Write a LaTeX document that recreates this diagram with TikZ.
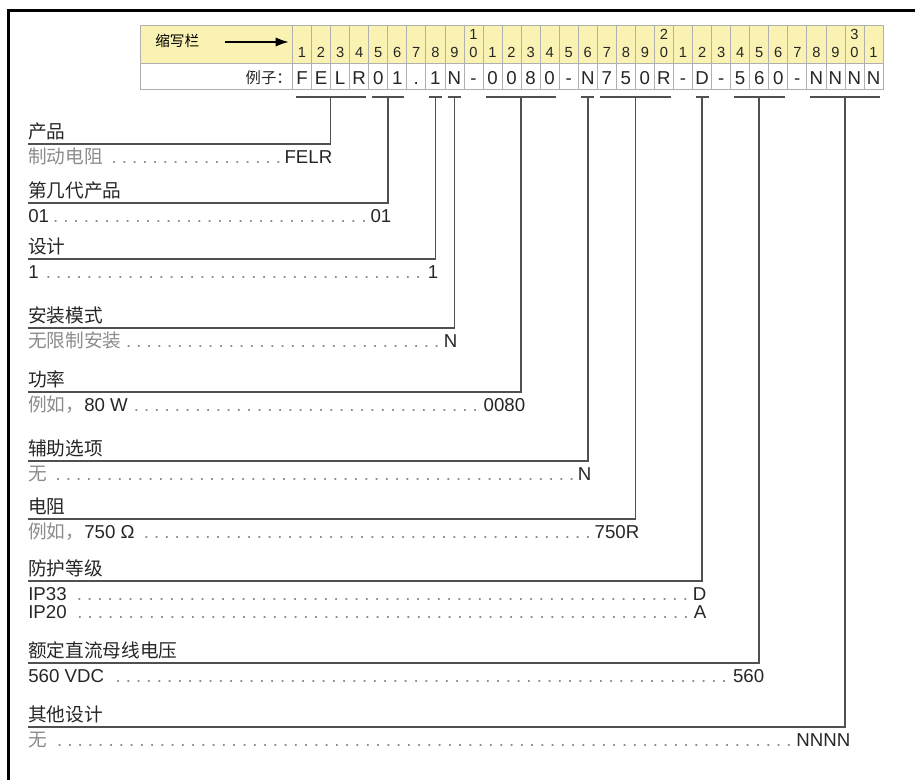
\documentclass[tikz,border=0pt]{standalone}
\usepackage{fontspec}
\setmainfont{Liberation Sans}
\newfontfamily\cjk{Noto Sans CJK SC}
\usetikzlibrary{arrows.meta}

\definecolor{codeyellow}{HTML}{F9F2B2}
\definecolor{cellgray}{HTML}{B0B0B0}
\definecolor{leadgray}{HTML}{505050}
\definecolor{textdark}{HTML}{262626}
\definecolor{textgray}{HTML}{8C8C8C}

% dotted leader and one value row, #1 = right end in px
\newcommand\leaderdots{{\color{textgray}\leavevmode\cleaders\hbox to 0.55em{\hss.\hss}\hfill}}
\newcommand\valline[3]{\hbox to \dimexpr(#1pt-28pt)*3/4\relax{#2\leaderdots#3}}
\newcommand\gr[1]{{\cjk\color{textgray}#1}}

\begin{document}
\begin{tikzpicture}[x=0.75pt,y=-0.75pt,
  title/.style={anchor=base west, inner sep=0pt, font=\cjk\fontsize{14}{16}\selectfont, text=textdark},
  value/.style={anchor=base west, inner sep=0pt, font=\fontsize{14}{16}\selectfont, text=textdark},
  digit/.style={anchor=base, inner sep=0pt, font=\fontsize{11}{12}\selectfont, text=textdark},
  letter/.style={anchor=base, inner sep=0pt, font=\fontsize{14}{15}\selectfont, text=textdark},
  lead/.style={draw=leadgray, line width=1.3pt},
  cell/.style={draw=cellgray, line width=0.6pt}]
\useasboundingbox (0,0) rectangle (915,780);

% frame
\draw[line width=2pt, line join=miter] (8.5,780) -- (8.5,10.5) -- (915,10.5);

% code table
\fill[codeyellow] (140,25) rectangle (883,63);
\draw[cell] (140,25) rectangle (883,89) (140,63) -- (883,63);
\foreach \i in {0,...,30}
  \draw[cell] ({292.5+\i*19.05},25) -- ({292.5+\i*19.05},89);

\node[anchor=base west, inner sep=0pt, font=\cjk\fontsize{11}{13}\selectfont] (abbr) at (155,46.5) {缩写栏};
\coordinate (arrtail) at (225,42);
\coordinate (arrhead) at (289,42);
\draw[line width=1.6pt, -{Latex[length=10pt,width=7pt]}] (arrtail) -- (arrhead);
\node[anchor=base east, inner sep=0pt, font=\cjk\fontsize{11.5}{13}\selectfont, text=textdark] (example) at (292,84) {例子：};

\foreach \i in {1,...,31}{
  \pgfmathtruncatemacro\u{mod(\i,10)}
  \node[digit] (d\i) at ({292.5+(\i-0.5)*19.05},57.5) {\u};
}
\foreach \i/\t in {10/1,20/2,30/3}
  \node[digit] (t\i) at ({292.5+(\i-0.5)*19.05},39.5) {\t};
\foreach \c [count=\i] in {F,E,L,R,0,1,.,1,N,-,0,0,8,0,-,N,7,5,0,R,-,D,-,5,6,0,-,N,N,N,N}
  \node[letter] (c\i) at ({292.5+(\i-0.5)*19.05},85) {\c};

% brackets under the code groups
\foreach \a/\b/\n in {1/4/prod,5/6/gen,8/8/des,9/9/mnt,11/14/pow,16/16/opt,17/20/res,22/22/ip,24/26/volt,28/31/oth}{
  \draw[lead] ({292.5+(\a-1)*19.05+3},97) -- ({292.5+\b*19.05-3},97);
  \coordinate (b\n) at ({292.5+(\a+\b-1)*19.05/2},97);
}

% 产品
\coordinate (lprod) at (28,144);
\node[title] (tprod) at (28,138.5) {产品};
\node[value] (vprod) at (28,164) {\valline{332}{\gr{制动电阻} }{FELR}};
\draw[lead] (lprod) -| (bprod);

% 第几代产品
\coordinate (lgen) at (28,203);
\node[title] (tgen) at (28,197.5) {第几代产品};
\node[value] (vgen) at (28,223) {\valline{391}{01}{01}};
\draw[lead] (lgen) -| (bgen);

% 设计
\coordinate (ldes) at (28,259);
\node[title] (tdes) at (28,253.5) {设计};
\node[value] (vdes) at (28,279) {\valline{438}{1}{1}};
\draw[lead] (ldes) -| (bdes);

% 安装模式
\coordinate (lmnt) at (28,328);
\node[title] (tmnt) at (28,322.5) {安装模式};
\node[value] (vmnt) at (28,348) {\valline{457}{\gr{无限制安装}}{N}};
\draw[lead] (lmnt) -| (bmnt);

% 功率
\coordinate (lpow) at (28,392);
\node[title] (tpow) at (28,386.5) {功率};
\node[value] (vpow) at (28,412) {\valline{525}{\gr{例如，}80 W}{0080}};
\draw[lead] (lpow) -| (bpow);

% 辅助选项
\coordinate (lopt) at (28,461);
\node[title] (topt) at (28,455.5) {辅助选项};
\node[value] (vopt) at (28,481) {\valline{591}{\gr{无} }{N}};
\draw[lead] (lopt) -| (bopt);

% 电阻
\coordinate (lres) at (28,519);
\node[title] (tres) at (28,513.5) {电阻};
\node[value] (vres) at (28,539) {\valline{639}{\gr{例如，}750 Ω }{750R}};
\draw[lead] (lres) -| (bres);

% 防护等级
\coordinate (lip) at (28,581);
\node[title] (tip) at (28,575.5) {防护等级};
\node[value] (vipa) at (28,601) {\valline{706}{IP33 }{D}};
\node[value] (vipb) at (28,619) {\valline{706}{IP20 }{A}};
\draw[lead] (lip) -| (bip);

% 额定直流母线电压
\coordinate (lvolt) at (28,663);
\node[title] (tvolt) at (28,657.5) {额定直流母线电压};
\node[value] (vvolt) at (28,683) {\valline{764}{560 VDC }{560}};
\draw[lead] (lvolt) -| (bvolt);

% 其他设计
\coordinate (loth) at (28,727);
\node[title] (toth) at (28,721.5) {其他设计};
\node[value] (voth) at (28,747) {\valline{850}{\gr{无} }{NNNN}};
\draw[lead] (loth) -| (both);
\end{tikzpicture}
\end{document}
